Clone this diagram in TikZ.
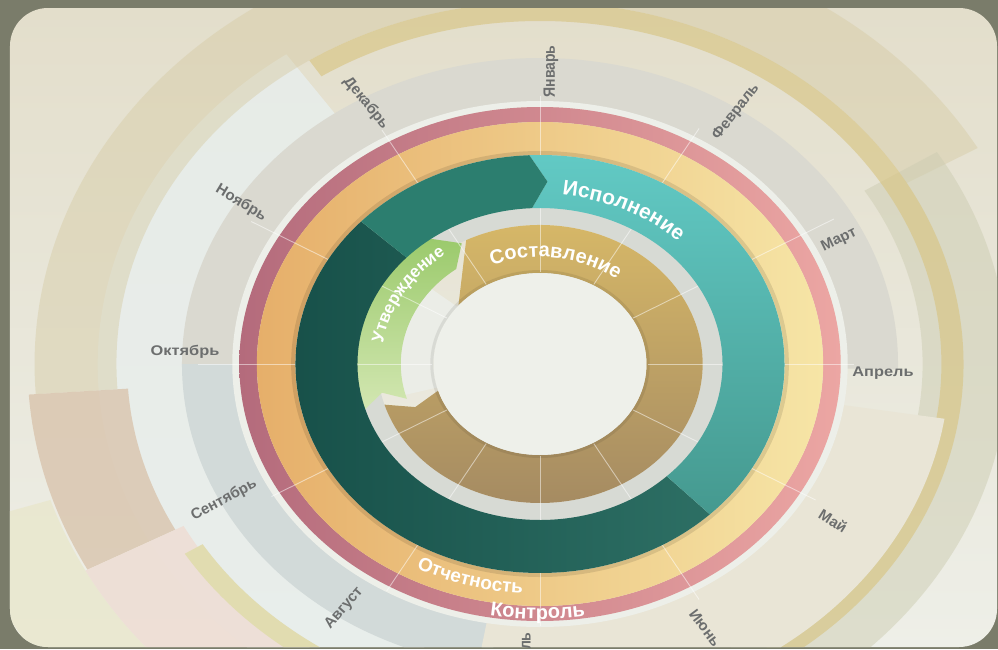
\documentclass[tikz,border=0pt]{standalone}
\usepackage{fontspec}
\setmainfont{Liberation Sans}
\usetikzlibrary{decorations.text}
\definecolor{bgdark}{HTML}{7A7C6A}
\definecolor{paneltop}{HTML}{E3DECB}
\definecolor{panelbot}{HTML}{EEEFE8}
\definecolor{tanwide}{HTML}{D6CBA4}
\definecolor{ythin}{HTML}{D8C584}
\definecolor{graygreen}{HTML}{CDCDB2}
\definecolor{beigeband}{HTML}{E9E5D6}
\definecolor{leftlight}{HTML}{E8EEEC}
\definecolor{brownband}{HTML}{D9C4AD}
\definecolor{pinkband}{HTML}{EEDED5}
\definecolor{paleyel}{HTML}{E9E7CC}
\definecolor{ygband}{HTML}{E1DCB0}
\definecolor{monthtop}{HTML}{DAD9D0}
\definecolor{monthleft}{HTML}{D2DAD9}
\definecolor{whitering}{HTML}{EDEFE9}
\definecolor{pinkL}{HTML}{B46B7C}
\definecolor{pinkR}{HTML}{ECA6A3}
\definecolor{yelL}{HTML}{E6AF6A}
\definecolor{yelR}{HTML}{F6E5A6}
\definecolor{tealT}{HTML}{62CAC5}
\definecolor{tealB}{HTML}{45998F}
\definecolor{tealM}{HTML}{2C7E6F}
\definecolor{tealDL}{HTML}{164F48}
\definecolor{tealDR}{HTML}{2D6F64}
\definecolor{gapc}{HTML}{D7DAD4}
\definecolor{sostT}{HTML}{D9BA68}
\definecolor{sostB}{HTML}{A48A62}
\definecolor{utvT}{HTML}{9BCA6C}
\definecolor{utvB}{HTML}{D3E7B2}
\definecolor{discc}{HTML}{EEF0EA}
\definecolor{monthtxt}{HTML}{6C6E6E}
\newcommand\annfill[5]{\fill[#1] (#2:#5pt) arc[start angle=#2,end angle=#3,radius=#5pt] -- (#3:#4pt) arc[start angle=#3,end angle=#2,radius=#4pt] -- cycle;}
\newcommand\ringfill[3]{\fill[#1,even odd rule] (0,0) circle[radius=#3pt] (0,0) circle[radius=#2pt];}
\newcommand\ringshade[3]{\shade[#1,even odd rule] (0,0) circle[radius=#3pt] (0,0) circle[radius=#2pt];}
\tikzset{
  monthlbl/.style={font=\bfseries\fontsize{15}{16}\selectfont, text=monthtxt, inner sep=0pt},
  monthwide/.style={monthlbl, font=\bfseries\fontsize{14}{15}\selectfont, xscale=1.17},
  mline/.style={draw=white, opacity=.5, line width=.9pt},
}
\begin{document}
\begin{tikzpicture}[x=1pt,y=1pt]
\useasboundingbox (-540,-285) rectangle (458,364);
\fill[bgdark] (-540,-285) rectangle (458,364);
\shade[top color=paneltop, bottom color=panelbot, rounded corners=38pt] (-530,-283) rectangle (457,356);
\begin{scope}
\clip[rounded corners=38pt] (-530,-283) rectangle (457,356);
\begin{scope}[xscale=1.17]
 % outer decorative bands
 \annfill{paleyel,opacity=.8}{198}{255}{440}{520}
 \annfill{leftlight,opacity=.85}{125}{252}{300}{378}
 \annfill{tanwide,opacity=.45}{30}{184}{362}{432}
 \annfill{brownband,opacity=.8}{184}{208}{353}{438}
 \annfill{pinkband,opacity=.9}{208}{262}{345}{440}
 \annfill{graygreen,opacity=.5}{32}{-70}{327}{400}
 \annfill{ythin,opacity=.65}{123}{-75}{343}{362}
 \annfill{ygband}{212}{265}{340}{358}
 % month band
 \annfill{monthtop}{-1}{180}{262}{306}
 \annfill{monthleft}{180}{262}{262}{306}
 \annfill{beigeband}{-100}{-9}{262}{350}
 \ringfill{whitering}{257}{263}
 % control and report rings
 \ringshade{left color=pinkL, right color=pinkR}{242}{257}
 \ringshade{left color=yelL, right color=yelR}{209}{242}
 \draw[black, opacity=.10, line width=4pt] (0,0) circle[radius=211pt];
 % gap ring
 \ringfill{gapc}{139}{157}
 % Sostavlenie
 \shade[top color=sostT, bottom color=sostB] (117:139pt) arc[start angle=117,end angle=-163,radius=139pt] -- (-158:115pt) -- (-163:91pt) arc[start angle=-163,end angle=140,radius=91pt] -- cycle;
 \annfill{discc!85!gapc}{141}{195}{91}{124}
 % Utverzhdenie
 \shade[top color=utvT, bottom color=utvB] (197:157pt) arc[start angle=197,end angle=127,radius=157pt] -- (119:138pt) -- (127:119pt) arc[start angle=127,end angle=197,radius=119pt] -- (192:138pt) -- cycle;
 % disc
 \fill[discc] (0,0) circle[radius=91pt];
 \draw[black, opacity=.08, line width=3pt] (0,0) circle[radius=92.5pt];
 % month lines
 \foreach \t/\r in {90/268,60/272,30/290,0/268,-30/272,-60/272,-90/262,-120/262,-150/265,180/292,150/285,120/270}
   \draw[mline] (\t:92pt) -- (\t:\r pt);
 % teal ring
 \shade[left color=tealDL, right color=tealDR] (137:209pt) arc[start angle=137,end angle=314,radius=209pt] -- (314:156pt) arc[start angle=314,end angle=137,radius=156pt] -- cycle;
 \shade[top color=tealT, bottom color=tealB] (92.5:209pt) arc[start angle=92.5,end angle=-46,radius=209pt] -- (-46:156pt) arc[start angle=-46,end angle=92.5,radius=156pt] -- (88:182.5pt) -- cycle;
 \fill[tealM] (137:209pt) arc[start angle=137,end angle=92.5,radius=209pt] -- (88:182.5pt) -- (92.5:156pt) arc[start angle=92.5,end angle=137,radius=156pt] -- cycle;
\end{scope}
% ring texts
\path[decorate, decoration={text along path, text align=center,
  text={|\fontsize{21}{21}\selectfont\bfseries\color{white}|Исполнение}}]
  (100:199pt and 170pt) arc[start angle=100,end angle=28,x radius=199pt,y radius=170pt];
\path[decorate, decoration={text along path, text align=center,
  text={|\fontsize{20}{20}\selectfont\bfseries\color{white}|Составление}}]
  (130:125pt and 107pt) arc[start angle=130,end angle=34,x radius=125pt,y radius=107pt];
\path[decorate, decoration={text along path, text align=center,
  text={|\fontsize{17}{17}\selectfont\bfseries\color{white}|Утверждение}}]
  (192:159pt and 136pt) arc[start angle=192,end angle=108,x radius=159pt,y radius=136pt];
\path[decorate, decoration={text along path, text align=center,
  text={|\fontsize{19}{19}\selectfont\bfseries\color{white}|Отчетность}}]
  (224:269pt and 230pt) arc[start angle=224,end angle=284,x radius=269pt,y radius=230pt];
\path[decorate, decoration={text along path, text align=center,
  text={|\fontsize{20}{20}\selectfont\bfseries\color{white}|Контроль}}]
  (245:298pt and 255pt) arc[start angle=245,end angle=294,x radius=298pt,y radius=255pt];
% month labels
\node[monthwide, rotate=90] (jan) at (11,292.5) {Январь};
\node[monthlbl, rotate=52]  (feb) at (196,252) {Февраль};
\node[monthlbl, rotate=26]  (mar) at (299,124) {Март};
\node[monthwide]            (apr) at (343,-9) {Апрель};
\node[monthlbl, rotate=-32] (may) at (293,-157) {Май};
\node[monthlbl, rotate=-53] (jun) at (165,-264) {Июнь};
\node[monthwide, rotate=90] (jul) at (-15,-288) {Июль};
\node[monthlbl, rotate=49]  (aug) at (-196,-244) {Август};
\node[monthlbl, rotate=28]  (sep) at (-316,-136) {Сентябрь};
\node[monthwide]            (oct) at (-355,12) {Октябрь};
\node[monthlbl, rotate=-31] (nov) at (-299,161) {Ноябрь};
\node[monthlbl, rotate=-51] (dec) at (-174,261) {Декабрь};
\end{scope}
\end{tikzpicture}
\end{document}
